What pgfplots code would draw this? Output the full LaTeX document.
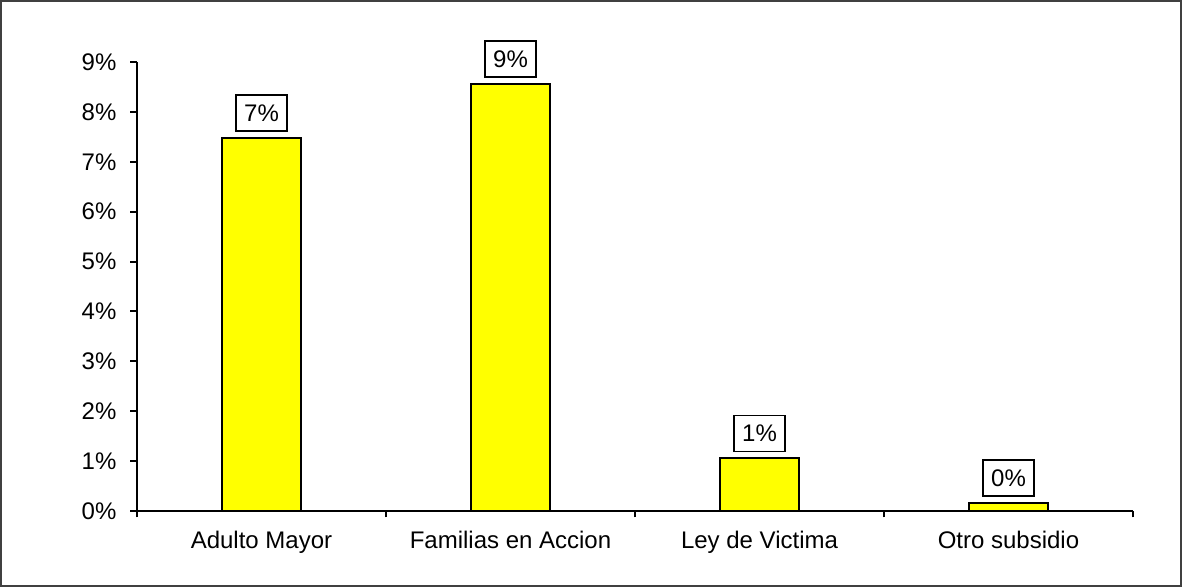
\documentclass[border=0pt]{standalone}
\usepackage{fontspec}
\setmainfont{Liberation Sans}
\usepackage{pgfplots}
\pgfplotsset{compat=1.18}
\definecolor{baryellow}{RGB}{255,255,0}
\begin{document}
\begin{tikzpicture}[x=1pt,y=1pt]
\useasboundingbox (-68.5,-38.5) rectangle (523,255.5);
\draw[line width=1pt, black!75] (-68,-37.5) rectangle (522,255);
\begin{axis}[
    at={(0,0)}, anchor=south west,
    scale only axis,
    width=498pt, height=224.5pt,
    xmin=-0.5, xmax=3.5,
    ymin=0, ymax=9,
    axis x line*=bottom, axis y line*=left,
    axis line style={line width=1pt, -},
    tick align=outside,
    major tick length=3.25pt,
    tick style={line width=1pt, black},
    xtick={-0.5,0.5,1.5,2.5,3.5},
    xticklabels=\empty,
    extra x ticks={0,1,2,3},
    extra x tick labels={Adulto Mayor, Familias en Accion, Ley de Victima, Otro subsidio},
    extra x tick style={major tick length=0pt},
    ytick={0,1,...,9},
    yticklabel={\pgfmathprintnumber{\tick}\%},
    ticklabel style={font=\fontsize{12}{14}\selectfont},
    /pgf/number format/assume math mode=true,
    yticklabel style={xshift=-3.5pt},
    xticklabel style={yshift=-6.5pt},
    clip=false,
]
\addplot[ybar, bar width=39.5pt, fill=baryellow, draw=black, line width=0.8pt,
    nodes near coords, point meta=explicit symbolic,
    every node near coord/.append style={draw=black, fill=white, line width=0.8pt,
        inner sep=0pt, minimum width=25.5pt, minimum height=18pt,
        anchor=south, yshift=3pt, font=\fontsize{12}{14}\selectfont}]
coordinates {
    (0,7.48) [7\%]
    (1,8.56) [9\%]
    (2,1.06) [1\%]
    (3,0.16) [0\%]
};
\end{axis}
\end{tikzpicture}
\end{document}
